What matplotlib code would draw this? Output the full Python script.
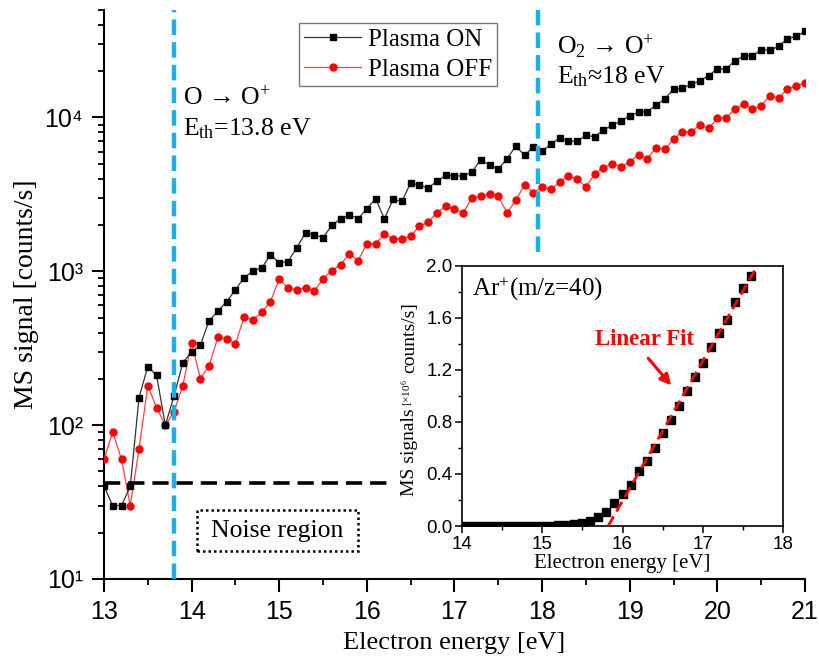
import numpy as np
import matplotlib.pyplot as plt
from matplotlib.patches import Rectangle
from matplotlib.ticker import FuncFormatter, MultipleLocator, LogLocator, NullFormatter

plt.rcParams['mathtext.fontset'] = 'custom'
plt.rcParams['mathtext.rm'] = 'Liberation Serif'
plt.rcParams['mathtext.it'] = 'Liberation Serif:italic'
plt.rcParams['mathtext.bf'] = 'Liberation Serif:bold'

SERIF = ['Liberation Serif', 'DejaVu Serif']
SANS = ['Liberation Sans', 'DejaVu Sans']

# O+ signal vs electron energy, 0.1 eV steps from 13 to 21 eV
energy = np.round(np.arange(13.0, 21.05, 0.1), 1)
plasma_on = [
    40, 30, 30, 40, 151, 240, 211, 100, 155, 255,
    299, 332, 477, 552, 634, 760, 910, 1006, 1052, 1279,
    1135, 1157, 1422, 1780, 1733, 1658, 1987, 2196, 2333, 2196,
    2553, 2966, 2196, 2938, 2851, 3760, 3625, 3484, 3849, 4210,
    4170, 4170, 4428, 5330, 4894, 4605, 5408, 6505, 5685, 6413,
    6039, 6698, 7375, 7015, 7015, 7675, 7490, 8280, 8930, 9480,
    10280, 10800, 10910, 12050, 13190, 15320, 15480, 16430, 17270, 18740,
    20700, 20700, 23340, 25160, 25160, 27540, 27540, 28970, 32500, 33690,
    36300,
]
plasma_off = [
    60, 90, 60, 30, 70, 181, 130, 100, 122, 181,
    344, 201, 243, 373, 362, 336, 507, 485, 541, 635,
    892, 776, 760, 783, 745, 892, 1012, 1102, 1300, 1175,
    1511, 1511, 1746, 1627, 1627, 1694, 1969, 2090, 2404, 2660,
    2524, 2404, 3000, 3070, 3184, 3070, 2404, 2892, 3664, 3230,
    3540, 3415, 3810, 4170, 3965, 3540, 4316, 4706, 5020, 4777,
    5150, 5746, 5408, 6353, 6222, 7228, 8075, 8075, 8930, 8495,
    9865, 9970, 11350, 12190, 11350, 11940, 13870, 13330, 15320, 16100,
    16680,
]

# threshold energies and noise floor
e_th_atom = 13.8
e_th_mol = 17.95
noise_level = 42.3

# Ar+ calibration curve for the inset (x1e6 counts/s)
ar_energy = np.round(np.arange(14.0, 17.65, 0.1), 1)
ar_signal = [
    0, 0, 0, 0, 0, 0, 0, 0, 0, 0, 0, 0,
    0.005, 0.008, 0.012, 0.02, 0.04, 0.067, 0.105, 0.174,
    0.244, 0.315, 0.423, 0.502, 0.597, 0.717, 0.814, 0.922, 1.04, 1.142,
    1.25, 1.373, 1.481, 1.583, 1.723, 1.826, 1.921,
]

fig = plt.figure(figsize=(8.2, 6.61), dpi=100)
ax = fig.add_axes([0.1268, 0.1241, 0.8549, 0.8608])

ax.plot(energy, plasma_on, color='#333333', lw=0.9, marker='s', ms=5,
        mfc='black', mec='black', label='Plasma ON', zorder=4)
ax.plot(energy, plasma_off, color='#ff4040', lw=0.9, marker='o', ms=5,
        mfc='red', mec='red', label='Plasma OFF', zorder=3)

blue = '#1cb0e8'
ax.axvline(e_th_atom, color=blue, lw=3.2, dashes=(3.5, 1.6), zorder=5)
ax.axvline(e_th_mol, ymin=0.575, ymax=1.0, color=blue, lw=3.2, dashes=(3.5, 1.6), zorder=5)
ax.hlines(noise_level, 13.0, 16.3, color='black', lw=2.6, linestyles=(0, (4.5, 2.2)), zorder=5)

ax.add_patch(Rectangle((14.06, 15.2), 1.84, 13.0, fill=False, ec='black',
                       lw=1.8, ls=(0, (1, 1.2)), zorder=5))
ax.text(14.98, 20.4, 'Noise region', family=SERIF, fontsize=18.5,
        ha='center', va='center')

ax.text(13.9, 13300, 'O → O$^{+}$', family=SERIF, fontsize=18.5, va='center')
ax.text(13.9, 8400, r'E$_{\mathrm{th}}$=13.8 eV', family=SERIF, fontsize=18.5, va='center')
ax.text(18.17, 29000, 'O$_{2}$ → O$^{+}$', family=SERIF, fontsize=18.5, va='center')
ax.text(18.17, 18300, r'E$_{\mathrm{th}}$≈18 eV', family=SERIF, fontsize=18.5, va='center')

ax.set_yscale('log')
ax.set_xlim(13, 21)
ax.set_ylim(10, 5e4)
ax.xaxis.set_major_locator(MultipleLocator(1))
ax.xaxis.set_minor_locator(MultipleLocator(0.5))
ax.yaxis.set_major_locator(LogLocator(base=10, numticks=10))
ax.yaxis.set_minor_locator(LogLocator(base=10, subs=np.arange(2, 10), numticks=20))
ax.yaxis.set_minor_formatter(NullFormatter())
sup = str.maketrans('0123456789', '⁰¹²³⁴⁵⁶⁷⁸⁹')
ax.yaxis.set_major_formatter(FuncFormatter(lambda v, p: '10' + str(int(round(np.log10(v)))).translate(sup)))

for s in ['top', 'right']:
    ax.spines[s].set_visible(False)
for s in ['left', 'bottom']:
    ax.spines[s].set_linewidth(1.5)
ax.tick_params(which='major', length=9, width=1.5, labelsize=18, pad=6)
ax.tick_params(which='minor', length=4.5, width=1.3)
for lab in ax.get_xticklabels() + ax.get_yticklabels():
    lab.set_family(SANS)

ax.set_xlabel('Electron energy [eV]', family=SERIF, fontsize=19, labelpad=6)
ax.set_ylabel('MS signal [counts/s]', family=SERIF, fontsize=20, labelpad=4)

leg = ax.legend(loc='upper left', bbox_to_anchor=(299 / 820, 1 - 23 / 661),
                bbox_transform=fig.transFigure, borderaxespad=0, numpoints=1,
                handlelength=2.3, fancybox=False, edgecolor='#555555',
                prop={'family': SERIF, 'size': 18}, labelspacing=0.3,
                borderpad=0.2, handletextpad=0.25)
leg.get_frame().set_linewidth(1.0)
leg.set_zorder(6)

# inset: Ar+ signal with linear fit
ins = fig.add_axes([0.5638, 0.2042, 0.3907, 0.3938])
ins.set_zorder(7)
ins.plot(ar_energy, ar_signal, ls='none', marker='s', ms=6, color='black', zorder=3)
ar_e = np.array(ar_energy)
ar_s = np.array(ar_signal)
fit_mask = ar_e >= 16.0
slope, icpt = np.polyfit(ar_e[fit_mask], ar_s[fit_mask], 1)
x_fit = np.array([-icpt / slope, 17.67])
ins.plot(x_fit, slope * x_fit + icpt, color='red', lw=2.0, ls=(0, (4, 2)), zorder=4)

ins.set_xlim(14, 18)
ins.set_ylim(0, 2.0)
ins.xaxis.set_major_locator(MultipleLocator(1))
ins.xaxis.set_minor_locator(MultipleLocator(0.5))
ins.yaxis.set_major_locator(MultipleLocator(0.4))
ins.yaxis.set_minor_locator(MultipleLocator(0.2))
ins.yaxis.set_major_formatter(FuncFormatter(lambda v, p: f'{v:.1f}'))
ins.tick_params(which='major', length=5, width=1.1, labelsize=13.5, pad=2)
ins.tick_params(which='minor', length=3, width=1.0)
for lab in ins.get_xticklabels() + ins.get_yticklabels():
    lab.set_family(SANS)
for s in ins.spines.values():
    s.set_linewidth(1.2)

ins.set_xlabel('Electron energy [eV]', family=SERIF, fontsize=15, labelpad=1)
ins.text(0.03, 0.965, r'Ar$^{+}$(m/z=40)', transform=ins.transAxes,
         family=SERIF, fontsize=18, va='top', ha='left')
ins.text(16.28, 1.43, 'Linear Fit', color='red', family=SERIF, fontsize=16.5,
         fontweight='bold', ha='center', va='center')
ins.annotate('', xy=(16.63, 1.064), xytext=(16.3, 1.305),
             arrowprops=dict(arrowstyle='-|>', color='red', lw=2.2, mutation_scale=16))

# inset y label in three pieces, bracketed unit smaller
fig.text(418 / 820, 1 - 496 / 661, 'MS signals', family=SERIF, fontsize=14,
         rotation=90, ha='right', va='bottom')
fig.text(416 / 820, 1 - 406 / 661, r'[×10$^{6}$', family=SERIF, fontsize=8,
         rotation=90, ha='right', va='bottom')
fig.text(418 / 820, 1 - 373 / 661, 'counts/s]', family=SERIF, fontsize=14,
         rotation=90, ha='right', va='bottom')

fig.savefig('out.png', dpi=100)
